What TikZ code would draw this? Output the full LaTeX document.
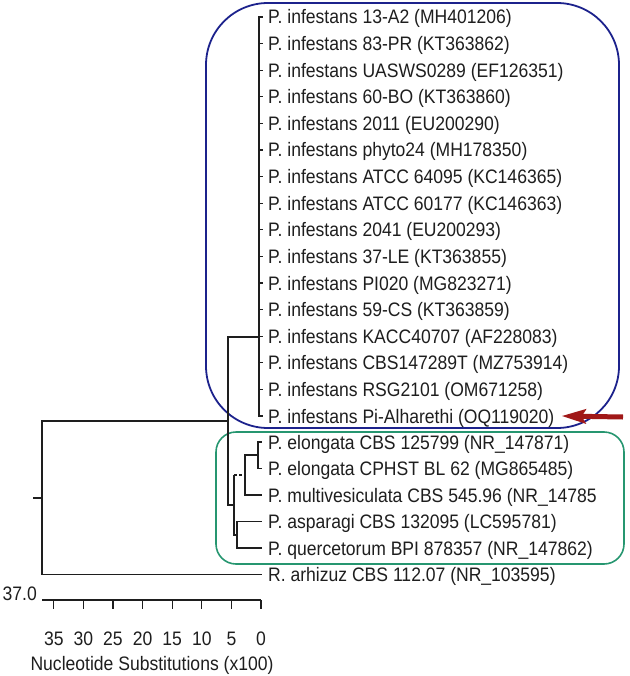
\documentclass[tikz,border=0pt]{standalone}
\usepackage{fontspec}
\setmainfont{Liberation Sans}[FakeStretch=0.9]
\usetikzlibrary{arrows.meta}
\definecolor{boxblue}{RGB}{28,34,140}
\definecolor{boxgreen}{RGB}{38,150,112}
\definecolor{arrowred}{RGB}{160,24,24}
\definecolor{ink}{RGB}{30,30,30}
\begin{document}
\begin{tikzpicture}[x=1pt,y=-1pt,
  lbl/.style={anchor=west, inner sep=0pt, text height=14pt, text depth=0pt,
    font=\fontsize{19.5}{23}\selectfont, text=ink},
  num/.style={anchor=center, inner sep=0pt, text height=14pt, text depth=0pt,
    font=\fontsize{19.5}{23}\selectfont, text=ink},
  branch/.style={draw=ink, line width=1.5pt},
  comb/.style={draw=ink, line width=1.1pt},
  thickcomb/.style={draw=ink, line width=2.4pt},
  bluebox/.style={draw=boxblue, line width=1.8pt, rounded corners=62pt},
  greenbox/.style={draw=boxgreen, line width=1.6pt, rounded corners=20pt},
  pointer/.style={draw=arrowred, line width=5pt, -{Stealth[length=24pt,width=14pt,inset=4pt]}}]
\useasboundingbox (0,0) rectangle (629,676);

% boxes
\draw[bluebox] (206,3) rectangle (619,428);
\draw[greenbox] (216,432) rectangle (624,564);

% leaf labels (infestans)
\def\rowy#1{17+26.6*(#1-1)}
\foreach \i/\t in {1/{P. infestans 13-A2 (MH401206)},
  2/{P. infestans 83-PR (KT363862)},
  3/{P. infestans UASWS0289 (EF126351)},
  4/{P. infestans 60-BO (KT363860)},
  5/{P. infestans 2011 (EU200290)},
  6/{P. infestans phyto24 (MH178350)},
  7/{P. infestans ATCC 64095 (KC146365)},
  8/{P. infestans ATCC 60177 (KC146363)},
  9/{P. infestans 2041 (EU200293)},
  10/{P. infestans 37-LE (KT363855)},
  11/{P. infestans PI020 (MG823271)},
  12/{P. infestans 59-CS (KT363859)},
  13/{P. infestans KACC40707 (AF228083)},
  14/{P. infestans CBS147289T (MZ753914)},
  15/{P. infestans RSG2101 (OM671258)},
  16/{P. infestans Pi-Alharethi (OQ119020)}}{
  \pgfmathsetmacro\yy{17+26.6*(\i-1)}
  \node[lbl] (L\i) at (268,\yy) {\t};
  \coordinate (t\i) at (263,\yy);
}
\node[lbl] (E1) at (268,442) {P. elongata CBS 125799 (NR\_147871)};
\node[lbl] (E2) at (268,468.5) {P. elongata CPHST BL 62 (MG865485)};
\node[lbl] (MV) at (268,495) {P. multivesiculata CBS 545.96 (NR\_14785};
\node[lbl] (AS) at (268,521.5) {P. asparagi CBS 132095 (LC595781)};
\node[lbl] (QU) at (268,548) {P. quercetorum BPI 878357 (NR\_147862)};
\node[lbl] (RA) at (268,574.5) {R. arhizuz CBS 112.07 (NR\_103595)};

\coordinate (tE1) at (262,442);
\coordinate (tE2) at (262,468.5);
\coordinate (tMV) at (262,495);
\coordinate (tAS) at (262,521.5);
\coordinate (tQU) at (262,548);
\coordinate (tRA) at (262,574.5);

% internal nodes
\coordinate (root) at (42,498);
\coordinate (rtick) at (33,498);
\coordinate (n1) at (228,421);
\coordinate (inf) at (259,337);
\coordinate (n2) at (234,505);
\coordinate (n3) at (245,475);
\coordinate (n5) at (258,455);
\coordinate (n4) at (237,535);

% tree
\draw[branch] (rtick) -- (root);
\draw[branch] (root) |- (n1);
\draw[branch] (root) |- (tRA);
\draw[branch] (n1) |- (inf);
\draw[branch] (n1) |- (n2);
\foreach \i in {1,...,16}{ \draw[comb] (inf) |- (t\i); }
\draw[thickcomb] (259,282) -- (inf);
\draw[thickcomb] (259,360) -- (259,388);
\draw[branch] (n2) |- (n4);
\draw[branch] (n2) -- (n2 |- n3);
\draw[branch, dash pattern=on 3pt off 2pt] (n2 |- n3) -- (n3);
\draw[branch] (n3) |- (n5);
\draw[branch] (n3) |- (tMV);
\draw[comb] (n5) |- (tE1);
\draw[comb] (n5) |- (tE2);
\draw[branch] (n4) |- (tAS);
\draw[branch] (n4) |- (tQU);

% pointer arrow
\coordinate (tail) at (623,417);
\draw[pointer] (tail) -- ([xshift=7pt]L16.east);

% scale bar
\coordinate (s37) at (42,600);
\coordinate (s0) at (261,600);
\draw[draw=ink, line width=2pt] (s37) -- (s0);
\foreach \v in {0,5,10,15,20,25,30,35}{
  \pgfmathsetmacro\xx{261-\v*5.92}
  \draw[draw=ink, line width=1.3pt] (\xx,600) -- (\xx,609);
  \node[num] (v\v) at (\xx,638) {\v};
}
\node[lbl, anchor=east] (maxv) at (37,593) {37.0};
\node[num] (axis) at (152,663) {Nucleotide Substitutions (x100)};
\end{tikzpicture}
\end{document}
